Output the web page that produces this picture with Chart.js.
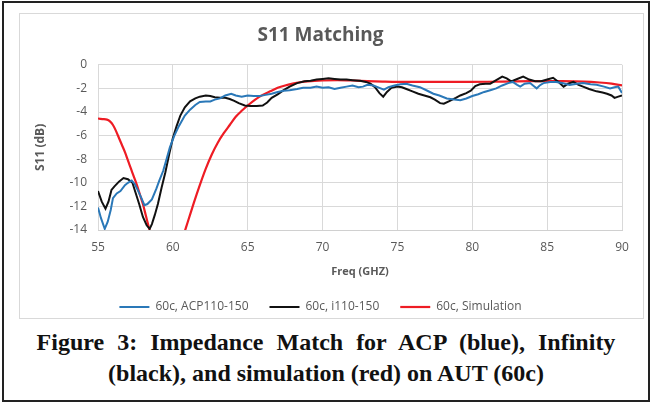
<!DOCTYPE html>
<html>
<head>
<meta charset="utf-8">
<script src="https://cdn.jsdelivr.net/npm/chart.js@4/dist/chart.umd.min.js"></script>
<style>
  body { margin: 0; background: #fff; width: 652px; height: 404px; overflow: hidden; position: relative; }
  #outer { position: absolute; left: 2px; top: 1px; width: 644px; height: 397px; border: 2px solid #222; }
  #frame { position: absolute; left: 19px; top: 13px; width: 623px; height: 304px; border: 1px solid #d9d9d9; }
  #wrap { position: absolute; left: 19px; top: 13px; width: 624px; height: 310px; }
  #caption { position: absolute; left: 0; top: 327px; width: 652px; text-align: center;
    font: bold 24px "Liberation Serif", "Times New Roman", serif; line-height: 31px; color: #111; }
  #caption .l1 { word-spacing: 7px; }
</style>
</head>
<body>
<div id="outer"></div>
<div id="frame"></div>
<div id="wrap"><canvas id="chart"></canvas></div>
<div id="caption"><span class="l1">Figure 3: Impedance Match for ACP (blue), Infinity</span><br>(black), and simulation (red) on AUT (60c)</div>

<script>
// axis ticks
var xTicks = [55, 60, 65, 70, 75, 80, 85, 90];
var yTicks = [0, -2, -4, -6, -8, -10, -12, -14];

// 60c, ACP110-150 (blue)
var acpFreq = [55.0, 55.2, 55.45, 55.65, 55.85, 56.0, 56.25, 56.5, 56.8, 57.0, 57.25, 57.45, 57.65, 57.9, 58.1, 58.3, 58.6, 58.9, 59.1, 59.35,
  59.6, 59.8, 60.1, 60.4, 60.8, 61.15, 61.5, 61.8, 62.2, 62.5, 62.8, 63.15, 63.5, 63.9, 64.2, 64.6, 65.0, 65.4, 65.8, 66.2,
  66.6, 67.0, 67.4, 67.8, 68.3, 68.7, 69.2, 69.6, 70.0, 70.4, 70.8, 71.2, 71.6, 72.0, 72.4, 72.7, 73.0, 73.4, 73.8, 74.1,
  74.4, 74.8, 75.2, 75.6, 76.0, 76.5, 77.0, 77.4, 77.8, 78.3, 78.8, 79.2, 79.6, 80.0, 80.4, 80.8, 81.2, 81.6, 82.0, 82.4,
  82.7, 83.0, 83.2, 83.5, 83.86, 84.1, 84.3, 84.5, 84.75, 85.2, 85.6, 86.0, 86.5, 87.0, 87.4, 87.9, 88.3, 88.8, 89.2, 89.5,
  89.75, 90.0];
var acpDb = [-12.1, -13.0, -13.9, -13.3, -12.3, -11.3, -10.9, -10.7, -10.2, -10.0, -9.8, -10.1, -10.6, -11.3, -11.9, -11.8, -11.4, -10.5, -9.8, -9.0,
  -7.9, -7.0, -6.0, -5.2, -4.3, -3.8, -3.4, -3.15, -3.1, -3.1, -2.95, -2.85, -2.6, -2.45, -2.6, -2.7, -2.6, -2.65, -2.65, -2.55,
  -2.45, -2.3, -2.2, -2.15, -2.05, -1.95, -1.95, -1.85, -1.95, -1.9, -2.05, -1.95, -1.85, -1.75, -1.9, -1.85, -1.7, -1.75, -1.95, -2.1,
  -1.9, -1.75, -1.65, -1.6, -1.75, -1.9, -2.2, -2.45, -2.6, -2.85, -2.95, -3.0, -2.85, -2.65, -2.5, -2.3, -2.15, -2.0, -1.75, -1.55,
  -1.45, -1.7, -1.85, -1.6, -1.55, -1.8, -2.0, -1.75, -1.55, -1.45, -1.45, -1.55, -1.7, -1.6, -1.55, -1.65, -1.7, -1.85, -2.0, -1.9,
  -1.85, -2.4];

// 60c, i110-150 (black)
var infFreq = [55.0, 55.25, 55.5, 55.7, 55.9, 56.1, 56.4, 56.7, 57.0, 57.3, 57.5, 57.75, 58.0, 58.25, 58.45, 58.6, 58.8, 59.0, 59.25, 59.5,
  59.75, 60.0, 60.25, 60.5, 60.8, 61.15, 61.5, 61.8, 62.2, 62.5, 62.8, 63.15, 63.5, 63.8, 64.1, 64.4, 64.8, 65.2, 65.6, 66.0,
  66.3, 66.6, 67.0, 67.4, 67.8, 68.3, 68.8, 69.2, 69.6, 70.0, 70.4, 70.8, 71.2, 71.6, 72.0, 72.5, 72.9, 73.2, 73.5, 73.8,
  74.05, 74.3, 74.6, 75.0, 75.3, 75.6, 76.0, 76.4, 76.8, 77.2, 77.5, 77.85, 78.1, 78.5, 78.9, 79.2, 79.6, 79.9, 80.2, 80.5,
  80.9, 81.2, 81.6, 82.0, 82.3, 82.6, 83.0, 83.4, 83.8, 84.2, 84.6, 85.0, 85.4, 85.8, 86.1, 86.4, 86.75, 87.1, 87.4, 87.8,
  88.3, 88.7, 89.0, 89.3, 89.5, 89.75, 90.0];
var infDb = [-10.7, -11.6, -12.2, -11.6, -10.6, -10.3, -9.9, -9.6, -9.7, -10.0, -10.8, -11.8, -12.9, -13.6, -13.9, -13.5, -12.7, -11.8, -10.4, -9.1,
  -7.6, -6.2, -5.2, -4.3, -3.6, -3.1, -2.85, -2.7, -2.6, -2.65, -2.75, -2.8, -2.8, -2.9, -3.05, -3.25, -3.45, -3.5, -3.5, -3.45,
  -3.2, -2.8, -2.5, -2.15, -1.85, -1.55, -1.4, -1.35, -1.25, -1.2, -1.15, -1.2, -1.25, -1.25, -1.3, -1.35, -1.45, -1.6, -1.9, -2.4,
  -2.7, -2.3, -1.95, -1.85, -1.9, -2.05, -2.25, -2.45, -2.6, -2.75, -2.95, -3.25, -3.3, -3.05, -2.8, -2.6, -2.4, -2.2, -1.8, -1.65,
  -1.6, -1.6, -1.3, -1.0, -1.15, -1.4, -1.2, -1.0, -1.25, -1.4, -1.4, -1.25, -1.1, -1.5, -1.85, -1.6, -1.45, -1.7, -1.85, -2.05,
  -2.25, -2.35, -2.45, -2.6, -2.8, -2.7, -2.6];

// 60c, Simulation (red) - null where it drops below the axis
var simFreq = [55.0, 55.3, 55.6, 55.8, 56.0, 56.2, 56.4, 56.6, 56.8, 57.0, 57.2, 57.4, 57.6, 57.8, 58.0, 58.2, 58.4, 58.5, 59.6,
  60.75, 61.0, 61.4, 61.8, 62.2, 62.6, 63.0, 63.4, 63.8, 64.2, 64.6, 65.0, 65.5, 66.0, 66.5, 67.0, 67.5, 68.0, 68.5, 69.0,
  70.0, 71.0, 72.0, 73.0, 74.0, 75.0, 77.0, 80.0, 82.0, 84.0, 86.0, 87.5, 88.5, 89.3, 90.0];
var simDb = [-4.55, -4.6, -4.65, -4.8, -5.1, -5.6, -6.2, -6.8, -7.4, -8.1, -8.8, -9.5, -10.2, -11.0, -11.8, -12.8, -13.8, -14.3, null,
  -14.3, -13.3, -11.7, -10.2, -8.8, -7.6, -6.6, -5.8, -5.1, -4.4, -3.9, -3.45, -2.95, -2.55, -2.25, -1.95, -1.75, -1.6, -1.48, -1.4,
  -1.33, -1.3, -1.33, -1.38, -1.42, -1.45, -1.45, -1.45, -1.42, -1.38, -1.38, -1.42, -1.5, -1.6, -1.75];

function pts(xs, ys) {
  return xs.map(function (x, i) { return { x: x, y: ys[i] }; });
}

var gray = "#595959";
var tickFont = { family: "Open Sans", size: 12 };

new Chart(document.getElementById("chart"), {
  type: "line",
  data: {
    datasets: [
      { label: "60c, ACP110-150", data: pts(acpFreq, acpDb), borderColor: "#2a78b8", backgroundColor: "#2a78b8", borderWidth: 2, pointRadius: 0, tension: 0 },
      { label: "60c, i110-150", data: pts(infFreq, infDb), borderColor: "#111111", backgroundColor: "#111111", borderWidth: 2, pointRadius: 0, tension: 0 },
      { label: "60c, Simulation", data: pts(simFreq, simDb), borderColor: "#ee1c24", backgroundColor: "#ee1c24", borderWidth: 2.2, pointRadius: 0, tension: 0.3, spanGaps: false }
    ]
  },
  options: {
    responsive: true,
    maintainAspectRatio: false,
    animation: false,
    layout: { padding: { left: 0, right: 21, top: 11, bottom: 0 } },
    plugins: {
      title: {
        display: true,
        text: "S11 Matching",
        color: gray,
        font: { family: "Open Sans", size: 19, weight: "bold" },
        padding: { top: 0, bottom: 18 }
      },
      legend: {
        position: "bottom",
        labels: {
          usePointStyle: true,
          pointStyle: "line",
          pointStyleWidth: 30,
          padding: 21,
          color: gray,
          font: { family: "Open Sans", size: 12 }
        }
      },
      tooltip: { enabled: false }
    },
    scales: {
      x: {
        type: "linear",
        min: 55,
        max: 90,
        afterBuildTicks: function (axis) { axis.ticks = xTicks.map(function (v) { return { value: v }; }); },
        afterFit: function (axis) { axis.height = 50; },
        grid: { color: "#d9d9d9", drawTicks: false },
        border: { color: "#d0d0d0" },
        ticks: { color: gray, font: tickFont, padding: 10 },
        title: { display: true, text: "Freq (GHZ)", color: gray, font: { family: "Open Sans", size: 11, weight: "bold" }, padding: { top: 0, bottom: 2 } }
      },
      y: {
        min: -14,
        max: 0,
        afterBuildTicks: function (axis) { axis.ticks = yTicks.map(function (v) { return { value: v }; }); },
        afterFit: function (axis) { axis.width = 79; },
        grid: { color: "#d9d9d9", drawTicks: false },
        border: { display: false },
        ticks: { color: gray, font: tickFont, padding: 11 },
        title: { display: true, text: "S11 (dB)", color: gray, font: { family: "Open Sans", size: 12, weight: "bold" }, padding: { top: 14, bottom: 0 } }
      }
    }
  }
});
</script>
</body>
</html>
